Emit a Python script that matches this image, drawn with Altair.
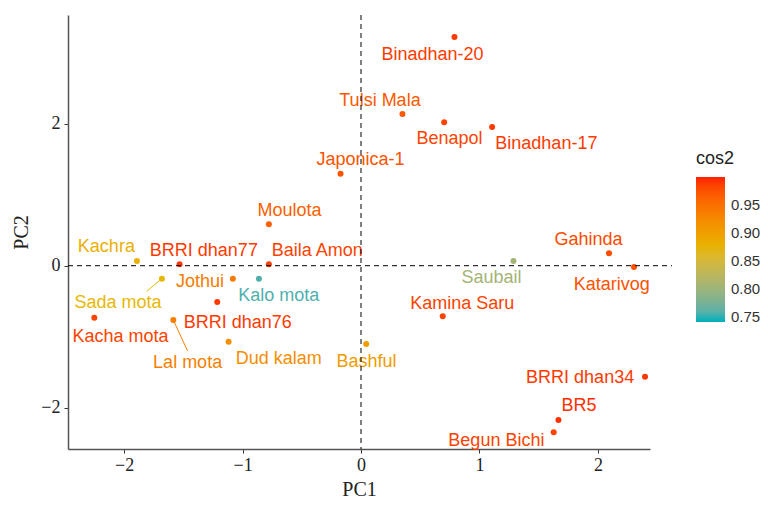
import altair as alt
import pandas as pd

names = ["Binadhan-20", "Tulsi Mala", "Benapol", "Binadhan-17", "Japonica-1", "Moulota",
         "Kachra", "BRRI dhan77", "Baila Amon", "Sada mota", "Jothui", "Kalo mota",
         "BRRI dhan76", "Kacha mota", "Lal mota", "Dud kalam", "Bashful", "Kamina Saru",
         "Saubail", "Gahinda", "Katarivog", "BRRI dhan34", "BR5", "Begun Bichi"]
pc1 = [0.789, 0.350, 0.702, 1.107, -0.173, -0.778,
       -1.892, -1.532, -0.778, -1.681, -1.082, -0.862,
       -1.214, -2.252, -1.585, -1.118, 0.044, 0.690,
       1.287, 2.094, 2.305, 2.398, 1.667, 1.627]
pc2 = [3.217, 2.134, 2.017, 1.951, 1.294, 0.582,
       0.066, 0.020, 0.020, -0.183, -0.183, -0.183,
       -0.511, -0.731, -0.764, -1.069, -1.101, -0.712,
       0.066, 0.174, -0.018, -1.561, -2.170, -2.343]
cos2 = [0.990, 0.970, 0.985, 0.990, 0.975, 0.965,
        0.880, 0.990, 0.985, 0.870, 0.940, 0.755,
        0.990, 0.985, 0.935, 0.920, 0.905, 0.985,
        0.805, 0.980, 0.975, 0.990, 0.995, 0.985]
label_x = [0.603, 0.160, 0.747, 1.565, -0.004, -0.603,
           -2.150, -1.327, -0.370, -2.052, -1.360, -0.695,
           -1.041, -2.031, -1.464, -0.694, 0.046, 0.855,
           1.101, 1.920, 2.117, 1.850, 1.840, 1.143]
label_y = [2.960, 2.317, 1.778, 1.712, 1.487, 0.769,
           0.259, 0.207, 0.207, -0.520, -0.233, -0.426,
           -0.810, -0.999, -1.364, -1.312, -1.350, -0.543,
           -0.169, 0.361, -0.271, -1.584, -1.973, -2.466]

seg_names = ["Sada mota", "Lal mota"]
seg_x2 = [-1.81, -1.464]
seg_y2 = [-0.36, -1.20]

df = pd.DataFrame({"name": names, "PC1": pc1, "PC2": pc2, "cos2": cos2,
                   "lx": label_x, "ly": label_y})

seg = pd.DataFrame({
    "name": seg_names,
    "sx": [pc1[names.index(n)] for n in seg_names],
    "sy": [pc2[names.index(n)] for n in seg_names],
    "sx2": seg_x2,
    "sy2": seg_y2,
    "cos2": [cos2[names.index(n)] for n in seg_names],
})

xscale = alt.Scale(domain=[-2.474, 2.44], nice=False, zero=False)
yscale = alt.Scale(domain=[-2.578, 3.526], nice=False, zero=False)


def cscale():
    return alt.Scale(type="linear", domain=[0.741, 1.0],
                     range=["#00AFBB", "#E7B800", "#FF2200"],
                     interpolate="lab", nice=False, zero=False)


xaxis = alt.Axis(values=[-2, -1, 0, 1, 2], format="d", title="PC1", grid=False,
                 labelFont="Liberation Serif",
                 labelFontSize=18, labelColor="#222", tickColor="#333", tickSize=4,
                 domainColor="#555", domainWidth=1.5, titleFont="Liberation Serif",
                 titleFontSize=20, titleFontWeight="normal", titleColor="#222", titlePadding=5,
                 labelPadding=3)
yaxis = alt.Axis(values=[-2, 0, 2], format="d", title="PC2", grid=False,
                 labelFont="Liberation Serif",
                 labelFontSize=18, labelColor="#222", tickColor="#333", tickSize=4,
                 domainColor="#555", domainWidth=1.5, titleFont="Liberation Serif",
                 titleFontSize=20, titleFontWeight="normal", titleColor="#222", titlePadding=9,
                 labelPadding=4)

legend = alt.Legend(type="gradient", title="cos2", orient="none", legendX=628, legendY=135,
                    gradientLength=145, gradientThickness=29, gradientStrokeWidth=0,
                    values=[0.75, 0.8, 0.85, 0.9, 0.95], format=".2f",
                    titleFont="Liberation Sans", titleFontSize=18, titleFontWeight="normal",
                    titleColor="#222", titlePadding=9, labelFont="Liberation Sans",
                    labelFontSize=15, labelColor="#333", labelOffset=6)

base = alt.Chart(df)

points = base.mark_circle(size=36, opacity=1).encode(
    x=alt.X("PC1:Q", scale=xscale, axis=xaxis),
    y=alt.Y("PC2:Q", scale=yscale, axis=yaxis),
    color=alt.Color("cos2:Q", scale=cscale(), legend=legend),
)

labels = base.mark_text(font="Liberation Sans", fontSize=18, align="center", baseline="middle").encode(
    x=alt.X("lx:Q", scale=xscale),
    y=alt.Y("ly:Q", scale=yscale),
    text="name:N",
    color=alt.Color("cos2:Q", scale=cscale(), legend=None),
)

segments = alt.Chart(seg).mark_rule(strokeWidth=1).encode(
    x=alt.X("sx:Q", scale=xscale),
    y=alt.Y("sy:Q", scale=yscale),
    x2=alt.X2("sx2:Q"),
    y2=alt.Y2("sy2:Q"),
    color=alt.Color("cos2:Q", scale=cscale(), legend=None),
)

zero = pd.DataFrame({"v": [0]})
hline = alt.Chart(zero).mark_rule(color="black", strokeDash=[5, 4], strokeWidth=1).encode(
    y=alt.Y("v:Q", scale=yscale), x=alt.value(0), x2=alt.value(604))
vline = alt.Chart(zero).mark_rule(color="black", strokeDash=[5, 4], strokeWidth=1).encode(
    x=alt.X("v:Q", scale=xscale), y=alt.value(0), y2=alt.value(434))

chart = alt.layer(segments, points, labels, hline, vline).resolve_scale(
    color="independent"
).properties(
    width=582, height=434,
    background="white",
    autosize=alt.AutoSizeParams(type="none"),
    padding={"left": 60, "top": 7, "right": 110, "bottom": 52},
).configure_view(strokeWidth=0, stroke=None)

chart.save("out.html", embed_options={"renderer": "svg", "actions": False})
